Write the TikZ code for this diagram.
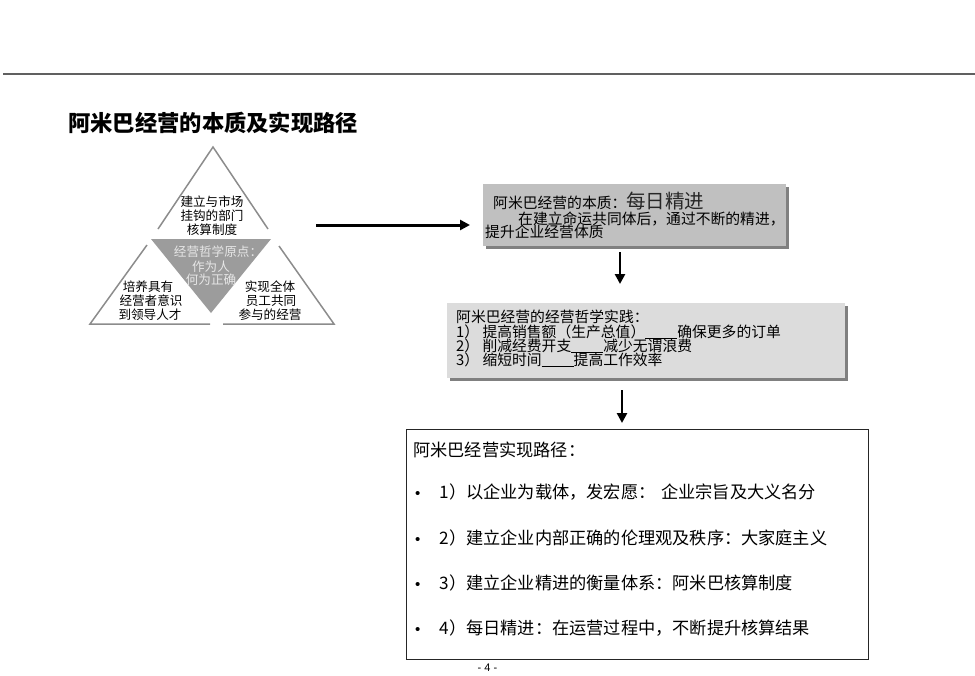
\documentclass[tikz,border=0pt]{standalone}
\usepackage{fontspec}
\setmainfont{Noto Sans CJK SC}
\newfontfamily\arialf{Liberation Sans}
\usetikzlibrary{arrows.meta,shadows}
\definecolor{rulegray}{HTML}{606060}
\definecolor{trigray}{HTML}{8C8C8C}
\definecolor{trifill}{HTML}{9C9C9C}
\definecolor{trytext}{HTML}{E6E6E6}
\definecolor{boxone}{HTML}{C0C0C0}
\definecolor{boxtwo}{HTML}{DCDCDC}
\definecolor{shadowgray}{HTML}{808080}
\tikzset{
  triline/.style={draw=trigray, line width=1.5pt, line join=miter},
  tritext/.style={anchor=base, inner sep=0pt, font=\fontsize{12.6}{13}\selectfont},
  graytext/.style={tritext, text=trytext},
  shadowbox/.style={rectangle, inner sep=0pt, draw=none,
    drop shadow={shadow xshift=3pt, shadow yshift=-3pt, fill=shadowgray, opacity=1}},
  ln/.style={anchor=base west, inner sep=0pt},
  boxfont/.style={font=\fontsize{14.8}{15}\selectfont},
  bigfont/.style={font=\fontsize{17.2}{18}\selectfont},
  fatarrow/.style={line width=3pt, -{Triangle[length=10pt,width=10pt]}},
  downarrow/.style={line width=2.6pt, -{Triangle[length=10pt,width=10pt]}},
}
\newcommand{\ul}[1]{\rule[-1pt]{#1pt}{0.8pt}}
\newcommand{\bul}{{\arialf\fontsize{15}{16}\selectfont •}\hspace{19pt}}
\begin{document}
\begin{tikzpicture}[x=1pt,y=-1pt]
\useasboundingbox (0,0) rectangle (975,675);
% top rule
\coordinate (ruleL) at (3,74);
\coordinate (ruleR) at (975,74);
\draw[rulegray, line width=1.3pt] (ruleL) -- (ruleR);
% title
\node[ln, font=\fontsize{22.3}{23}\selectfont\bfseries] (title) at (68,131) {阿米巴经营的本质及实现路径};

% triangle pieces
\draw[triline] (158,229) -- (213,147) -- (268,229);
\draw[triline] (147,245) -- (90,324) -- (210,324);
\draw[triline] (279,246) -- (334,324) -- (223,324);
\fill[trifill] (151,239) -- (271,239) -- (211,313) -- cycle;

\node[tritext] (t1) at (212,206.5) {建立与市场};
\node[tritext] (t2) at (212,220.8) {挂钩的部门};
\node[tritext] (t3) at (212,234) {核算制度};
\node[graytext] (g1) at (218,256.5) {经营哲学原点：};
\node[graytext] (g2) at (211,271.2) {作为人};
\node[graytext] (g3) at (211,284.5) {何为正确};
\node[tritext] (l1) at (148,291.5) {培养具有};
\node[tritext] (l2) at (151,305.8) {经营者意识};
\node[tritext] (l3) at (150,319.8) {到领导人才};
\node[tritext] (r1) at (270,291.5) {实现全体};
\node[tritext] (r2) at (271,305.8) {员工共同};
\node[tritext] (r3) at (270,319.8) {参与的经营};

% box 1
\node[shadowbox, fill=boxone, minimum width=303pt, minimum height=62pt] (b1) at (634.5,215) {};
\node[ln, boxfont] (b1a) at (493,208.5) {阿米巴经营的本质：{\fontsize{19.5}{20}\selectfont\color{black!85}每日精进}};
\node[ln, boxfont] (b1b) at (518,224.5) {在建立命运共同体后，通过不断的精进，};
\node[ln, boxfont] (b1c) at (485,237.5) {提升企业经营体质};

% box 2
\node[shadowbox, fill=boxtwo, minimum width=398pt, minimum height=75pt] (b2) at (646,340.5) {};
\node[ln, boxfont] (b2a) at (456,322.5) {阿米巴经营的经营哲学实践：};
\node[ln, boxfont] (b2b) at (456,337.5) {1） 提高销售额（生产总值）\ul{32}确保更多的订单};
\node[ln, boxfont] (b2c) at (456,351.5) {2） 削减经费开支\ul{32}减少无谓浪费};
\node[ln, boxfont] (b2d) at (456,365.5) {3） 缩短时间\ul{32}提高工作效率};

% box 3
\node[draw=black!85, line width=0.9pt, minimum width=462pt, minimum height=230pt, inner sep=0pt] (b3) at (637,544) {};
\node[ln, bigfont] (b3h) at (413,456.5) {阿米巴经营实现路径：};
\node[ln, bigfont] (b3a) at (415,498.5) {\bul 1）以企业为载体，发宏愿：\hspace{6pt}企业宗旨及大义名分};
\node[ln, bigfont] (b3b) at (415,544.5) {\bul 2）建立企业内部正确的伦理观及秩序：大家庭主义};
\node[ln, bigfont] (b3c) at (415,589.5) {\bul 3）建立企业精进的衡量体系：阿米巴核算制度};
\node[ln, bigfont] (b3d) at (415,634.5) {\bul 4）每日精进：在运营过程中，不断提升核算结果};

% page number
\node[anchor=base, inner sep=0pt, font=\arialf\fontsize{11}{12}\selectfont] (pg) at (487.5,671) {- 4 -};

% arrows
\coordinate (a0s) at (316,225);
\coordinate (a0e) at (470,225);
\draw[fatarrow] (a0s) -- (a0e);
\coordinate (a1s) at (620,252);
\coordinate (a1e) at (620,284);
\draw[downarrow] (a1s) -- (a1e);
\coordinate (a2s) at (622,390);
\coordinate (a2e) at (622,423);
\draw[downarrow] (a2s) -- (a2e);
\end{tikzpicture}
\end{document}
